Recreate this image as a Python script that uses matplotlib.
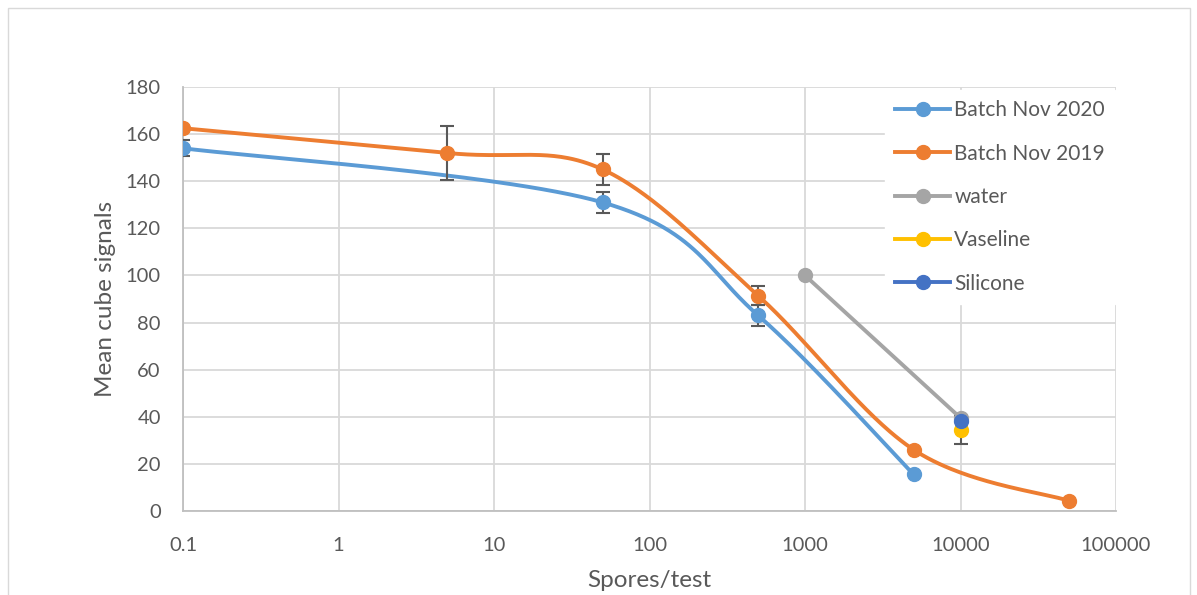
import numpy as np
import matplotlib
matplotlib.use("Agg")
import matplotlib.pyplot as plt
from matplotlib.lines import Line2D
from matplotlib.patches import Rectangle

plt.rcParams['font.family'] = ['Lato', 'DejaVu Sans']

# ---- data ----
x_2020 = [0.1, 50, 500, 5000]
y_2020 = [154, 131, 83, 15.5]
err_2020 = [3.5, 4.5, 4.6, 0]

x_2019 = [0.1, 5, 50, 500, 5000, 50000]
y_2019 = [162.5, 152, 145, 91.4, 26, 4.3]
err_2019 = [0, 11.5, 6.5, 4, 0, 0]

x_water = [1000, 10000]
y_water = [100, 39.5]

x_vaseline = [10000]
y_vaseline = [34.5]
err_vaseline = [6]

x_silicone = [10000]
y_silicone = [38]

xticks = [0.1, 1, 10, 100, 1000, 10000, 100000]
xticklabels = ['0.1', '1', '10', '100', '1000', '10000', '100000']
yticks = [0, 20, 40, 60, 80, 100, 120, 140, 160, 180]

C_2020 = '#5B9BD5'
C_2019 = '#ED7D31'
C_WATER = '#A5A5A5'
C_VAS = '#FFC000'
C_SIL = '#4472C4'
TXT = '#595959'
GRID = '#D9D9D9'


def smooth(xs, ys, n=60):
    """Catmull-Rom (Excel-like) smoothing in (log10 x, y) space."""
    lx = np.log10(np.asarray(xs, float))
    y = np.asarray(ys, float)
    P = np.column_stack([lx, y])
    if len(P) < 3:
        return xs, ys
    out = []
    for i in range(len(P) - 1):
        p0 = P[i - 1] if i > 0 else P[i]
        p1 = P[i]
        p2 = P[i + 1]
        p3 = P[i + 2] if i + 2 < len(P) else P[i + 1]
        c1 = p1 + (p2 - p0) / 6.0
        c2 = p2 - (p3 - p1) / 6.0
        t = np.linspace(0, 1, n)[:, None]
        seg = ((1 - t) ** 3) * p1 + 3 * ((1 - t) ** 2) * t * c1 + 3 * (1 - t) * t ** 2 * c2 + t ** 3 * p2
        out.append(seg if i == 0 else seg[1:])
    S = np.vstack(out)
    return 10 ** S[:, 0], S[:, 1]


fig = plt.figure(figsize=(11.97, 5.95), dpi=100)
ax = fig.add_axes([183 / 1197, 1 - 511 / 595, (1116 - 183) / 1197, (511 - 87) / 595])

# outer chart border
fig.patches.append(Rectangle((8 / 1197, -0.1), (1190 - 8) / 1197, 1.1 - 8 / 595,
                             transform=fig.transFigure, fill=False,
                             edgecolor=GRID, lw=1.0))

ax.set_xscale('log')
ax.set_xlim(0.1, 100000)
ax.set_ylim(0, 180)
ax.set_xticks(xticks)
ax.set_xticklabels(xticklabels)
ax.minorticks_off()
ax.set_yticks(yticks)
ax.grid(True, color=GRID, lw=1.3, zorder=0)
ax.set_axisbelow(True)
for s in ['top', 'right']:
    ax.spines[s].set_visible(False)
for s in ['left', 'bottom']:
    ax.spines[s].set_color('#BFBFBF')
    ax.spines[s].set_linewidth(1.3)
ax.tick_params(axis='both', length=0, labelsize=14.5, labelcolor=TXT)
ax.tick_params(axis='x', pad=19)
ax.tick_params(axis='y', pad=16)

ax.set_ylabel('Mean cube signals', fontsize=17.5, color=TXT, labelpad=7)
ax.set_xlabel('Spores/test', fontsize=17.5, color=TXT, labelpad=11)

LW = 2.8
MS = 10
ECOL = '#595959'

sx, sy = smooth(x_2020, y_2020)
ax.plot(sx, sy, color=C_2020, lw=LW, zorder=3, solid_capstyle='round')
sx, sy = smooth(x_2019, y_2019)
ax.plot(sx, sy, color=C_2019, lw=LW, zorder=3, solid_capstyle='round')
ax.plot(x_water, y_water, color=C_WATER, lw=LW, zorder=3)

ax.errorbar(x_2020, y_2020, yerr=err_2020, fmt='none', ecolor=ECOL, elinewidth=1.5, capsize=5, capthick=1.5, zorder=4)
ax.errorbar(x_2019, y_2019, yerr=err_2019, fmt='none', ecolor=ECOL, elinewidth=1.5, capsize=5, capthick=1.5, zorder=4)
ax.errorbar(x_vaseline, y_vaseline, yerr=err_vaseline, fmt='none', ecolor=ECOL, elinewidth=1.5, capsize=5, capthick=1.5, zorder=4)

ax.plot(x_2020, y_2020, 'o', color=C_2020, ms=MS, zorder=5)
ax.plot(x_2019, y_2019, 'o', color=C_2019, ms=MS, zorder=5)
ax.plot(x_water, y_water, 'o', color=C_WATER, ms=MS, zorder=5)
ax.plot(x_vaseline, y_vaseline, 'o', color=C_VAS, ms=MS, zorder=5)
ax.plot(x_silicone, y_silicone, 'o', color=C_SIL, ms=MS, zorder=6)

handles = [Line2D([], [], color=c, lw=LW, marker='o', ms=MS) for c in [C_2020, C_2019, C_WATER, C_VAS, C_SIL]]
labels = ['Batch Nov 2020', 'Batch Nov 2019', 'water', 'Vaseline', 'Silicone']
leg = ax.legend(handles, labels, loc='upper left',
                bbox_to_anchor=(885 / 1197, 1 - 90 / 595), bbox_transform=fig.transFigure,
                frameon=True, fancybox=False, framealpha=1.0, edgecolor='white',
                fontsize=15, labelcolor=TXT, handlelength=2.6, handletextpad=0.22,
                labelspacing=1.12, borderpad=0.5, borderaxespad=0)
leg.set_zorder(10)

fig.savefig('out.png', dpi=100)
